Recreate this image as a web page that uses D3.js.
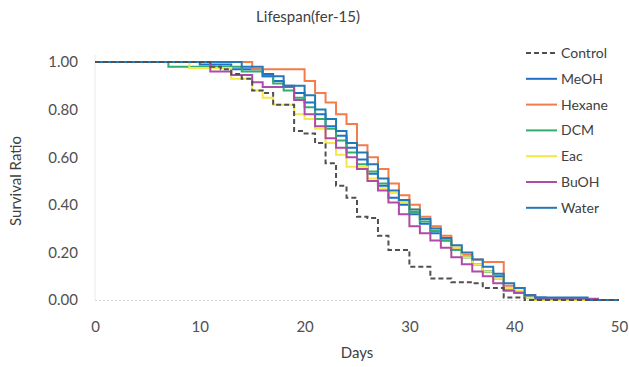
<!DOCTYPE html>
<html><head><meta charset="utf-8">
<script src="https://cdn.jsdelivr.net/npm/d3@7"></script>
<style>
html,body{margin:0;padding:0;background:#fff;}
svg text{font-family:Lato,"Open Sans",sans-serif;}
</style></head>
<body><svg id="c" width="629" height="367"></svg>
<script>
const days = d3.range(0, 51);
const seriesNames = ["Control","MeOH","Hexane","DCM","Eac","BuOH","Water"];
const seriesColors = ["#505050","#1f6fc9","#f47b4a","#2fae6e","#f5e74a","#b04aa8","#2478b5"];
const xTicks = [0,10,20,30,40,50];
const yTicks = [0,0.2,0.4,0.6,0.8,1.0];

function fill(v, n){ return Array(n).fill(v); }
// value held from day d to d+1, for d = 0..50
const control = [].concat(fill(1,11),[0.98,0.97,0.95,0.93,0.88,0.87,0.82,0.82,0.71,0.70,0.66,0.575,0.48,0.43,0.35,0.345,0.27,0.21,0.21,0.14,0.14,0.09,0.09,0.075,0.075,0.07,0.05,0.05,0.01,0.01],fill(0,10));
const meoh = [].concat(fill(1,10),[0.99,0.99,0.99,0.97,0.97,0.97,0.95,0.92,0.90,0.87,0.83,0.78,0.73,0.69,0.64,0.59,0.53,0.48,0.43,0.40,0.36,0.32,0.28,0.25,0.21,0.18,0.15,0.12,0.10,0.05,0.03,0.02,0.01,0.005,0.005,0.005],fill(0,5));
const hexane = [].concat(fill(1,15),[0.97,0.97,0.97,0.97,0.97,0.92,0.87,0.83,0.78,0.74,0.65,0.60,0.55,0.49,0.44,0.40,0.35,0.31,0.27,0.22,0.19,0.17,0.16,0.16,0.06,0.05,0.02],fill(0,9));
const dcm = [].concat(fill(1,7),[0.98,0.98,0.98,0.98,0.98,0.98,0.98,0.96,0.96,0.94,0.91,0.88,0.85,0.81,0.76,0.72,0.67,0.62,0.57,0.54,0.49,0.45,0.41,0.37,0.33,0.29,0.25,0.21,0.18,0.15,0.12,0.09,0.04,0.03,0.01],fill(0,9));
const eac = [].concat(fill(1,9),[0.975,0.975,0.975,0.975,0.93,0.93,0.88,0.85,0.82,0.82,0.78,0.76,0.72,0.66,0.61,0.56,0.56,0.51,0.47,0.45,0.41,0.38,0.34,0.30,0.26,0.22,0.18,0.15,0.12,0.09,0.05,0.04,0.01],fill(0,9));
const buoh = [].concat(fill(1,11),[0.96,0.96,0.945,0.945,0.915,0.895,0.895,0.895,0.84,0.78,0.73,0.68,0.64,0.60,0.55,0.50,0.46,0.41,0.36,0.31,0.28,0.25,0.22,0.18,0.15,0.12,0.10,0.07,0.04,0.03,0.02,0.005,0.005,0.005,0.005,0.005,0.005],fill(0,3));
const water = [].concat(fill(1,14),[0.98,0.98,0.94,0.94,0.90,0.90,0.86,0.80,0.76,0.71,0.66,0.62,0.57,0.51,0.46,0.42,0.38,0.34,0.30,0.26,0.23,0.20,0.17,0.14,0.11,0.07,0.05,0.02,0.01,0.01,0.01,0.01,0.01],fill(0,4));
const seriesValues = [control, meoh, hexane, dcm, eac, buoh, water];

const svg = d3.select("#c");
const x = d3.scaleLinear().domain([0,50]).range([95,619]);
const y = d3.scaleLinear().domain([0,1]).range([300,62]);
const FONT = "Lato,'Open Sans',sans-serif";

// title
svg.append("text").attr("x",308).attr("y",22).attr("text-anchor","middle")
  .attr("font-size",15).attr("fill","#404040").text("Lifespan(fer-15)");

// faint axis lines
svg.append("line").attr("x1",x(0)).attr("x2",x(0)).attr("y1",y(1.03)).attr("y2",y(0))
  .attr("stroke","#eaeaea").attr("stroke-width",1);
svg.append("line").attr("x1",x(0)).attr("x2",x(50)).attr("y1",y(0)+0.5).attr("y2",y(0)+0.5)
  .attr("stroke","#d8d8d8").attr("stroke-width",1).attr("stroke-dasharray","2,2");

// axes
const xAxis = svg.append("g").attr("transform",`translate(0,${y(0)})`)
  .call(d3.axisBottom(x).tickValues(xTicks).tickSize(0).tickPadding(21));
xAxis.select(".domain").remove();
xAxis.selectAll("text").attr("font-size",15).attr("fill","#505050").attr("font-family",FONT);
const yAxis = svg.append("g").attr("transform",`translate(${x(0)},0)`)
  .call(d3.axisLeft(y).tickValues(yTicks).tickFormat(d3.format(".2f")).tickSize(0).tickPadding(17));
yAxis.select(".domain").remove();
yAxis.selectAll("text").attr("font-size",15).attr("fill","#505050").attr("font-family",FONT);

svg.append("text").attr("x",357).attr("y",358).attr("text-anchor","middle")
  .attr("font-size",15).attr("fill","#404040").text("Days");
svg.append("text").attr("transform","translate(21,181) rotate(-90)").attr("text-anchor","middle")
  .attr("font-size",15).attr("fill","#404040").text("Survival Ratio");

const line = d3.line().x(d=>x(d[0])).y(d=>y(d[1])).curve(d3.curveStepAfter);
const drawOrder = [1,2,3,4,5,6,0];
drawOrder.forEach(i=>{
  const pts = days.map((d,k)=>[d, seriesValues[i][k]]);
  svg.append("path").datum(pts).attr("d",line).attr("fill","none")
    .attr("stroke",seriesColors[i]).attr("stroke-width",2)
    .attr("stroke-dasharray", i===0 ? "5,3" : null);
});

// legend
seriesNames.forEach((name,i)=>{
  const ly = 53 + i*25.8;
  svg.append("line").attr("x1",526).attr("x2",557).attr("y1",ly).attr("y2",ly)
    .attr("stroke",seriesColors[i]).attr("stroke-width",2)
    .attr("stroke-dasharray", i===0 ? "5,3" : null);
  svg.append("text").attr("x",561).attr("y",ly+5).attr("font-size",14)
    .attr("fill","#404040").text(name);
});
</script></body></html>
